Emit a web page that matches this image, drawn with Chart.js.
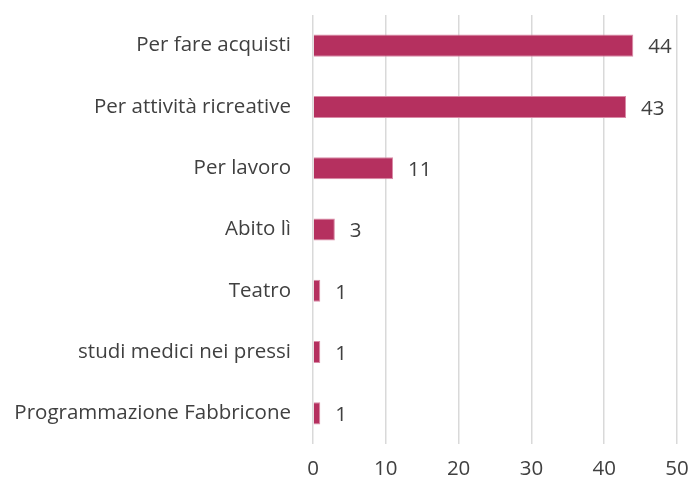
<!DOCTYPE html>
<html>
<head>
<meta charset="utf-8">
<script src="https://cdn.jsdelivr.net/npm/chart.js@4"></script>
<style>
  html, body { margin: 0; padding: 0; background: #fff; }
  #wrap { width: 692px; height: 482px; }
</style>
</head>
<body>
<div id="wrap"><canvas id="chart" width="692" height="482"></canvas></div>
<script>
// Data
const categories = [
  "Per fare acquisti",
  "Per attività ricreative",
  "Per lavoro",
  "Abito lì",
  "Teatro",
  "studi medici nei pressi",
  "Programmazione Fabbricone"
];
const values = [44, 43, 11, 3, 1, 1, 1];
const xTicks = [0, 10, 20, 30, 40, 50];

const textColor = "#404040";
const fontFamily = "'Open Sans', sans-serif";
const fontSize = 20.5;

// value labels right of bars
const valueLabels = {
  id: "valueLabels",
  afterDatasetsDraw(chart) {
    const ctx = chart.ctx;
    const meta = chart.getDatasetMeta(0);
    ctx.save();
    ctx.fillStyle = textColor;
    ctx.font = fontSize + "px " + fontFamily;
    ctx.textAlign = "left";
    ctx.textBaseline = "middle";
    meta.data.forEach((bar, i) => {
      ctx.fillText(values[i], bar.x + 15, bar.y + 2);
    });
    ctx.restore();
  }
};

new Chart(document.getElementById("chart"), {
  type: "bar",
  data: {
    labels: categories,
    datasets: [{
      data: values,
      backgroundColor: "#B5305F",
      borderColor: "#D98AA6",
      borderWidth: 1,
      barPercentage: 0.6,
      categoryPercentage: 0.6
    }]
  },
  options: {
    indexAxis: "y",
    responsive: false,
    animation: false,
    layout: { padding: { top: 15, right: 15, left: 0, bottom: 0 } },
    plugins: { legend: { display: false }, tooltip: { enabled: false } },
    scales: {
      x: {
        min: 0, max: 50,
        afterBuildTicks: s => { s.ticks = xTicks.map(v => ({ value: v })); },
        afterFit: s => { s.height = 38; s.paddingLeft = 0; s.paddingRight = 0; },
        grid: { color: "#D9D9D9", lineWidth: 1.5, drawTicks: false },
        border: { display: false },
        ticks: { color: textColor, font: { size: fontSize, family: fontFamily }, padding: 13 }
      },
      y: {
        afterFit: s => { s.width = 313; s.paddingTop = 0; s.paddingBottom = 0; },
        grid: { display: false, drawTicks: false },
        border: { display: false },
        ticks: { color: textColor, font: { size: fontSize, family: fontFamily }, padding: 22 }
      }
    }
  },
  plugins: [valueLabels]
});
</script>
</body>
</html>
